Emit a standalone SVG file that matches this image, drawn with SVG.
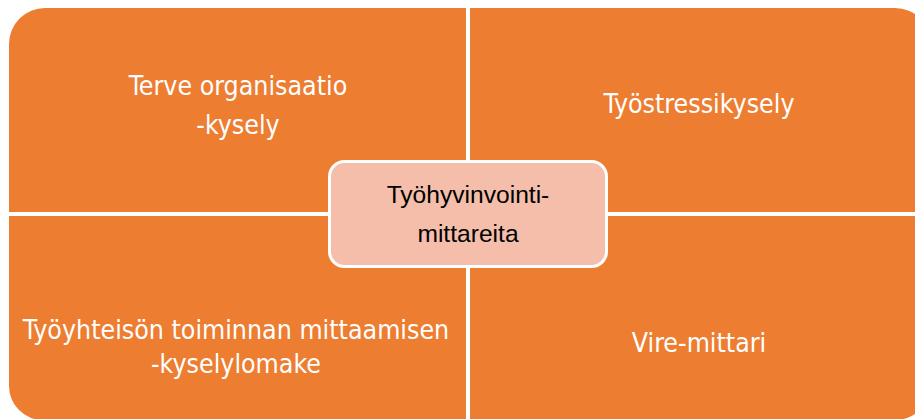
<svg xmlns="http://www.w3.org/2000/svg" width="915" height="419" viewBox="0 0 915 419">
  <style>
    .quad { fill: #ED7D31; }
    .qtext { fill: #FFFFFF; font-family: "DejaVu Sans Condensed", "DejaVu Sans", Verdana, sans-serif; font-size: 26.5px; text-anchor: middle; }
    .center { fill: #F4BEAA; stroke: #FFFFFF; stroke-width: 3; }
    .ctext { fill: #000000; font-family: "Liberation Sans", Arial, sans-serif; font-size: 24.6px; text-anchor: middle; }
  </style>
  <rect width="915" height="419" fill="#FFFFFF"/>
  <g id="node-terve">
    <path class="quad" d="M9,44 A36,36 0 0 1 45,8 L466,8 L466,212 L9,212 Z"/>
    <text class="qtext" x="238" y="95">Terve organisaatio</text>
    <text class="qtext" x="238" y="134">-kysely</text>
  </g>
  <g id="node-tyostressi">
    <path class="quad" d="M470,8 L895,8 A36,36 0 0 1 931,44 L931,212 L470,212 Z"/>
    <text class="qtext" x="699" y="113">Työstressikysely</text>
  </g>
  <g id="node-tyoyhteiso">
    <path class="quad" d="M9,216 L466,216 L466,420 L43,420 A34,34 0 0 1 9,386 Z"/>
    <text class="qtext" x="236" y="339">Työyhteisön toiminnan mittaamisen</text>
    <text class="qtext" x="236" y="373">-kyselylomake</text>
  </g>
  <g id="node-vire">
    <path class="quad" d="M470,216 L931,216 L931,384 A36,36 0 0 1 895,420 L470,420 Z"/>
    <text class="qtext" x="699" y="352">Vire-mittari</text>
  </g>
  <g id="node-center">
    <rect class="center" x="329.5" y="161.5" width="277" height="105" rx="15" ry="15"/>
    <text class="ctext" x="468" y="203">Työhyvinvointi-</text>
    <text class="ctext" x="468" y="242">mittareita</text>
  </g>
  <g id="connectors"/>
</svg>
